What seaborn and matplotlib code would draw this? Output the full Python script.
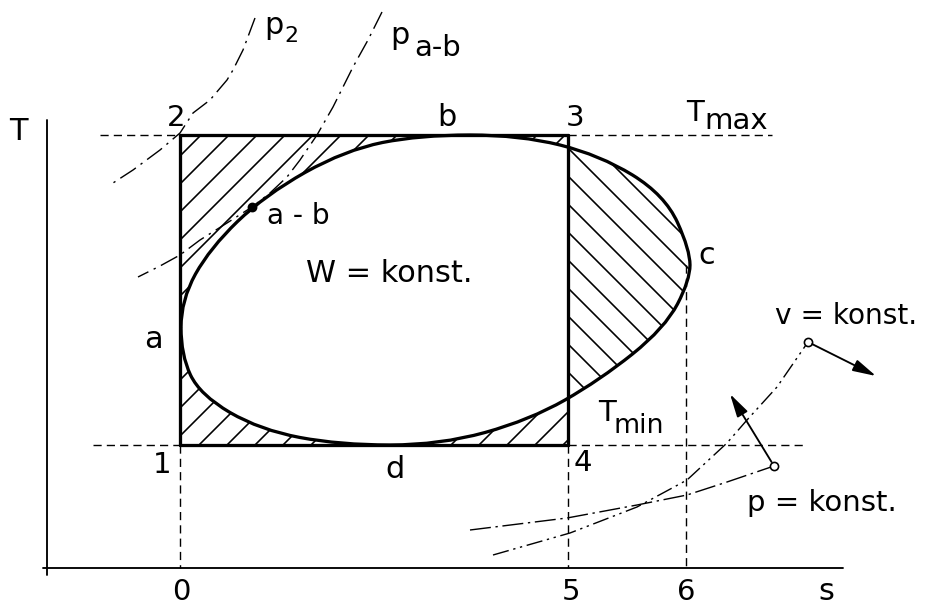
import numpy as np
import matplotlib
matplotlib.use("Agg")
import matplotlib.pyplot as plt
import seaborn as sns
from matplotlib.path import Path
from matplotlib.patches import PathPatch

# --- diagram geometry (pixel units, y downwards) ---
s_0, s_5, s_6 = 180, 568, 686          # entropy positions 0, 5, 6
T_max, T_min = 135, 445                # temperature levels
axis_T_x, axis_s_y = 47, 568

# closed W = konst. loop, control polygon (a -> b -> c -> d -> a)
loop_x = [181, 210, 265, 345, 420, 520, 600, 665, 690, 690, 665, 600, 530, 440, 340, 260, 200, 181]
loop_y = [300, 248, 195, 150, 135, 135, 155, 195, 250, 280, 328, 380, 420, 445, 445, 430, 395, 355]

# isobars p2 and p_a-b
p2_x = [255, 243, 233, 227, 210, 193, 180, 160, 133, 113]
p2_y = [18, 50, 70, 80, 100, 113, 133, 150, 170, 183]
pab_x = [382, 368, 353, 333, 317, 300, 287, 270, 252, 227, 200, 180, 160, 138]
pab_y = [12, 40, 67, 107, 135, 160, 177, 193, 207, 223, 240, 255, 266, 277]
point_ab = (252, 207)

# v = konst. and p = konst. lines in the inset
v_x = [493, 570, 637, 687, 727, 747, 777, 808]
v_y = [555, 533, 507, 480, 443, 420, 387, 342]
p_x = [470, 567, 637, 687, 727, 774]
p_y = [530, 518, 505, 495, 482, 466]
v_arrow_end = (876, 376)
p_arrow_end = (730, 394)

sns.set_theme(style="white")
plt.rcParams["font.family"] = ["DejaVu Sans"]
plt.rcParams["lines.scale_dashes"] = False
plt.rcParams["hatch.linewidth"] = 0.7

DPI = 168
fig = plt.figure(figsize=(926 / DPI, 607 / DPI), dpi=DPI)
ax = fig.add_axes([0, 0, 1, 1])
ax.set_xlim(0, 926)
ax.set_ylim(607, 0)
ax.axis("off")

k = "black"
thick, thin = 1.4, 0.6
dash = (0, (3.5, 2.2))

# axes of the diagram
ax.plot([axis_T_x, axis_T_x], [120, 575], color=k, lw=0.8)
ax.plot([43, 843], [axis_s_y, axis_s_y], color=k, lw=0.8)

# loop path: quadratic beziers through mid points of the control polygon
pts = np.column_stack([loop_x, loop_y]).astype(float)
n = len(pts)
mids = (pts + np.roll(pts, -1, axis=0)) / 2
verts = [mids[-1]]
codes = [Path.MOVETO]
for i in range(n):
    verts += [pts[i], mids[i]]
    codes += [Path.CURVE3, Path.CURVE3]
loop_path = Path(verts, codes)
poly = loop_path.to_polygons(closed_only=True)[0]

# hatched parts: rectangle minus loop (left of s_5) and loop right of s_5
left_loop = poly.copy()
left_loop[:, 0] = np.minimum(left_loop[:, 0], s_5)
right_loop = poly.copy()
right_loop[:, 0] = np.maximum(right_loop[:, 0], s_5)

rect_v = np.array([(s_0, T_max), (s_0, T_min), (s_5, T_min), (s_5, T_max), (s_0, T_max)], float)
left_path = Path.make_compound_path(Path(rect_v, closed=True), Path(left_loop, closed=True))
ax.add_patch(PathPatch(left_path, facecolor="none", edgecolor=k, lw=0, hatch="//"))
ax.add_patch(PathPatch(Path(right_loop, closed=True), facecolor="none", edgecolor=k, lw=0, hatch="\\\\"))

ax.add_patch(PathPatch(loop_path, facecolor="none", edgecolor=k, lw=thick))

# rectangle edges (solid) and their dashed extensions
ax.plot([s_0, s_5], [T_max, T_max], color=k, lw=thick)
ax.plot([s_0, s_5], [T_min, T_min], color=k, lw=thick)
ax.plot([s_0, s_0], [T_max, T_min], color=k, lw=thick)
ax.plot([s_5, s_5], [T_max, T_min], color=k, lw=thick)
ax.plot([100, s_0], [T_max, T_max], color=k, lw=thin, ls=dash)
ax.plot([s_5, 772], [T_max, T_max], color=k, lw=thin, ls=dash)
ax.plot([93, s_0], [T_min, T_min], color=k, lw=thin, ls=dash)
ax.plot([s_5, 803], [T_min, T_min], color=k, lw=thin, ls=dash)
ax.plot([s_0, s_0], [T_min, axis_s_y], color=k, lw=thin, ls=dash)
ax.plot([s_5, s_5], [T_min, axis_s_y], color=k, lw=thin, ls=dash)
ax.plot([s_6, s_6], [265, axis_s_y], color=k, lw=thin, ls=dash)

# isobars
dashdot = (0, (8, 2.5, 1, 2.5))
sns.lineplot(x=p2_x, y=p2_y, sort=False, estimator=None, color=k, lw=0.6, linestyle=dashdot, ax=ax)
sns.lineplot(x=pab_x, y=pab_y, sort=False, estimator=None, color=k, lw=0.6, linestyle=dashdot, ax=ax)
ax.plot(*point_ab, "o", ms=3.2, color=k)

# v = konst. and p = konst.
sns.lineplot(x=v_x, y=v_y, sort=False, estimator=None, color=k, lw=0.6,
             linestyle=(0, (7, 2, 1, 2, 1, 2)), ax=ax)
sns.lineplot(x=p_x, y=p_y, sort=False, estimator=None, color=k, lw=0.6,
             linestyle=(0, (9, 2, 1, 2)), ax=ax)
arrow = dict(arrowstyle="-|>,head_length=0.7,head_width=0.18", color=k, lw=0.8, shrinkA=2, shrinkB=0)
ax.annotate("", xy=v_arrow_end, xytext=(v_x[-1], v_y[-1]), arrowprops=arrow)
ax.annotate("", xy=p_arrow_end, xytext=(p_x[-1], p_y[-1]), arrowprops=arrow)
ax.plot(v_x[-1], v_y[-1], "o", ms=3.5, mfc="white", mec=k, mew=0.7)
ax.plot(p_x[-1], p_y[-1], "o", ms=3.5, mfc="white", mec=k, mew=0.7)

# labels
fs = 13
def lab(x, y, t, size=fs, ha="center", va="center"):
    ax.text(x, y, t, fontsize=size, ha=ha, va=va, color=k)

lab(18, 131, "T")
lab(826, 592, "s")
lab(181, 592, "0", size=12.5)
lab(571, 592, "5", size=12.5)
lab(686, 592, "6", size=12.5)
lab(176, 118, "2", size=12.5)
lab(447, 118, "b")
lab(575, 118, "3", size=12.5)
lab(704, 127, "T", size=12.5, ha="right", va="bottom")
lab(704, 135, "max", size=12.5, ha="left", va="bottom")
lab(616, 427, "T", size=12.5, ha="right", va="bottom")
lab(614, 439, "min", size=11.5, ha="left", va="bottom")
lab(298, 216, "a - b", size=12)
lab(389, 273, "W = konst.")
lab(153, 340, "a")
lab(707, 256, "c")
lab(162, 465, "1", size=12.5)
lab(395, 470, "d")
lab(583, 463, "4", size=12.5)
lab(846, 316, "v = konst.", size=12)
lab(822, 503, "p = konst.", size=12.5)
lab(264, 40, "p", ha="left", va="bottom")
lab(284, 46, "2", size=9.5, ha="left", va="bottom")
lab(390, 50, "p", ha="left", va="bottom")
lab(414, 62, "a-b", size=12.5, ha="left", va="bottom")

fig.savefig("out.png", dpi=DPI)
